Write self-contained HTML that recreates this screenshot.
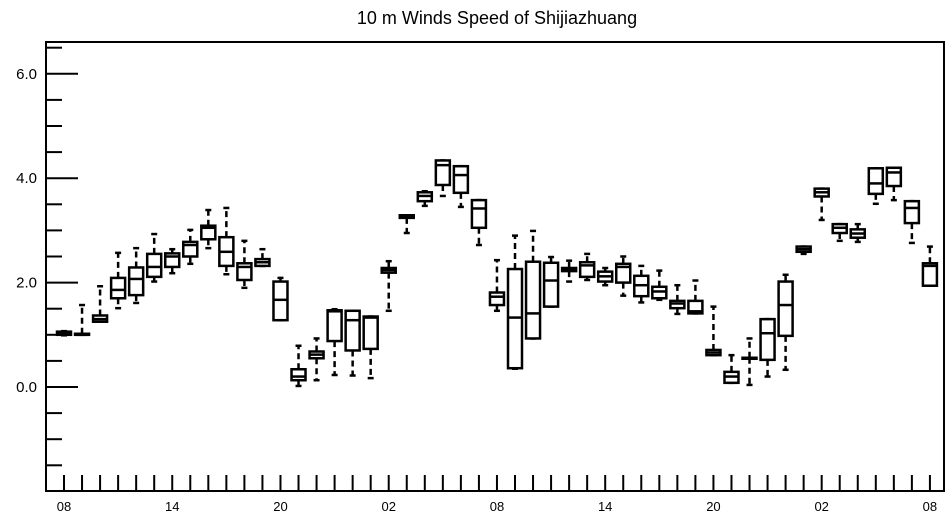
<!DOCTYPE html>
<html><head><meta charset="utf-8"><style>
body{margin:0;background:#fff;}
svg{display:block;font-family:"Liberation Sans",sans-serif;}
</style></head><body>
<svg id="chart" width="952" height="520">
<text x="497" y="24" text-anchor="middle" font-size="18">10 m Winds Speed of Shijiazhuang</text>
<rect x="46" y="42" width="898" height="449" fill="none" stroke="#000" stroke-width="2"/>
<g id="axes"></g>
<g id="boxes"></g>
</svg>
<script>
const hours = ["08","","","","","","14","","","","","","20","","","","","","02","","","","","","08","","","","","","14","","","","","","20","","","","","","02","","","","","","08"];
const yTickLabels = ["0.0","2.0","4.0","6.0"];
const yTickValues = [0,2,4,6];
const wMin = [0.99,1.0,1.25,1.51,1.61,2.02,2.18,2.36,2.66,2.16,1.90,2.32,1.28,0.02,0.13,0.23,0.22,0.17,1.46,2.95,3.47,3.66,3.45,2.72,1.46,0.35,0.93,1.54,2.02,2.05,1.95,1.75,1.62,1.67,1.40,1.41,0.61,0.08,0.04,0.20,0.33,2.55,3.20,2.80,2.78,3.51,3.58,2.76,1.94];
const q1 = [1.0,1.0,1.25,1.70,1.76,2.11,2.30,2.50,2.83,2.32,2.05,2.32,1.28,0.13,0.55,0.88,0.70,0.73,2.19,3.24,3.56,3.87,3.72,3.05,1.57,0.36,0.93,1.54,2.22,2.11,2.02,2.00,1.74,1.70,1.51,1.41,0.61,0.08,0.56,0.52,0.98,2.59,3.65,2.95,2.86,3.70,3.85,3.14,1.94];
const med = [1.03,1.0,1.30,1.86,2.07,2.30,2.50,2.72,3.05,2.59,2.30,2.39,1.67,0.20,0.62,1.45,1.28,1.33,2.24,3.27,3.66,4.25,4.06,3.42,1.73,1.33,1.41,2.04,2.25,2.33,2.12,2.30,1.95,1.83,1.60,1.45,0.66,0.20,0.56,1.03,1.57,2.64,3.73,3.05,2.94,3.90,4.11,3.43,2.32];
const q3 = [1.06,1.02,1.37,2.09,2.29,2.55,2.56,2.78,3.09,2.87,2.37,2.45,2.02,0.34,0.68,1.47,1.46,1.35,2.28,3.29,3.73,4.34,4.23,3.58,1.81,2.26,2.40,2.38,2.28,2.39,2.21,2.36,2.13,1.92,1.65,1.65,0.71,0.29,0.56,1.30,2.02,2.69,3.80,3.12,3.02,4.19,4.20,3.56,2.37];
const wMax = [1.07,1.57,1.93,2.57,2.66,2.93,2.64,3.01,3.39,3.43,2.80,2.64,2.09,0.79,0.93,1.49,1.46,1.35,2.41,3.29,3.75,4.34,4.23,3.58,2.43,2.90,2.99,2.49,2.42,2.55,2.28,2.50,2.32,2.23,1.95,2.04,1.54,0.61,0.93,1.30,2.15,2.69,3.80,3.12,3.12,4.19,4.20,3.56,2.69];

const NS="http://www.w3.org/2000/svg";
const x = i => 64 + i*18.04;
const y = v => 387 - v*52.2;
function mk(tag, attrs, parent){const e=document.createElementNS(NS,tag);for(const k in attrs)e.setAttribute(k,attrs[k]);parent.appendChild(e);return e;}
const axes=document.getElementById('axes');
const boxes=document.getElementById('boxes');
// y ticks
for(let v=-1.5; v<=6.5; v+=0.5){
  const major = Math.abs(v - Math.round(v/2)*2) < 1e-6;
  const t=mk('line',{x1:46,x2:major?78:62,y1:y(v),y2:y(v),stroke:'#000','stroke-width':2},axes);
  
  
}
yTickValues.forEach((v,k)=>{
  const t=mk('text',{x:37,y:y(v)+5,'text-anchor':'end','font-size':15},axes);
  t.textContent=yTickLabels[k];
  
  
});
hours.forEach((h,i)=>{
  const t=mk('line',{x1:x(i),x2:x(i),y1:491,y2:475,stroke:'#000','stroke-width':2},axes);
  
  
  if(h){
    const l=mk('text',{x:x(i),y:511,'text-anchor':'middle','font-size':13},axes);
    l.textContent=h;
    
    
  }
});
// boxes
const hw=7;
wMin.forEach((_,i)=>{
  const g=mk('g',{},boxes);
  
  
  const cx=x(i);
  const ws={stroke:'#000','stroke-width':2.5,'stroke-dasharray':'6,4'};
  const w1=mk('line',Object.assign({x1:cx,x2:cx,y1:y(q3[i]),y2:y(wMax[i])},ws),g);
  
  
  const w2=mk('line',Object.assign({x1:cx,x2:cx,y1:y(q1[i]),y2:y(wMin[i])},ws),g);
  
  
  const c1=mk('line',{x1:cx-3,x2:cx+3,y1:y(wMax[i]),y2:y(wMax[i]),stroke:'#000','stroke-width':2.5},g);
  
  
  const c2=mk('line',{x1:cx-3,x2:cx+3,y1:y(wMin[i]),y2:y(wMin[i]),stroke:'#000','stroke-width':2.5},g);
  
  
  const r=mk('rect',{x:cx-hw,y:y(q3[i]),width:2*hw,height:Math.max(1,y(q1[i])-y(q3[i])),fill:'#fff',stroke:'#000','stroke-width':2.5},g);
  
  
  const m=mk('line',{x1:cx-hw,x2:cx+hw,y1:y(med[i]),y2:y(med[i]),stroke:'#000','stroke-width':2.5},g);
  
  
});
</script>
</body></html>
